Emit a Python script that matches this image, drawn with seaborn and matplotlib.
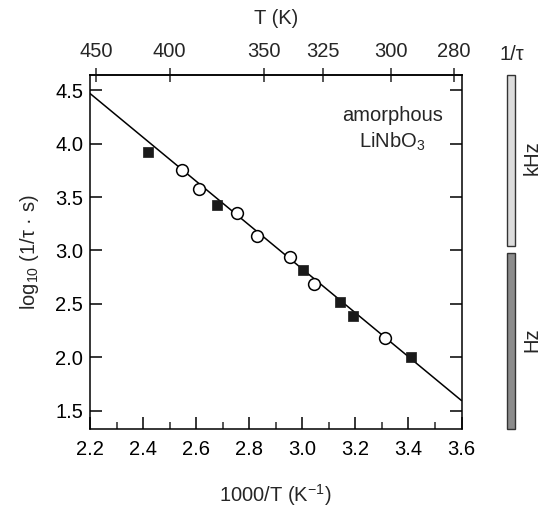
import numpy as np
import pandas as pd
import matplotlib
matplotlib.use("Agg")
import matplotlib.pyplot as plt
from matplotlib.patches import Rectangle
import seaborn as sns

# ---- data ----
sq_x = [2.419, 2.679, 3.002, 3.142, 3.190, 3.409]
sq_y = [3.92, 3.43, 2.82, 2.52, 2.385, 2.00]
ci_x = [2.545, 2.610, 2.754, 2.830, 2.954, 3.046, 3.312]
ci_y = [3.75, 3.58, 3.352, 3.136, 2.938, 2.69, 2.185]
fit_x = [2.2, 3.6]
fit_y = [4.47, 1.595]
bottom_ticks = [2.2, 2.4, 2.6, 2.8, 3.0, 3.2, 3.4, 3.6]
left_ticks = [1.5, 2.0, 2.5, 3.0, 3.5, 4.0, 4.5]
top_T = [450, 400, 350, 325, 300, 280]

FS = 14.5

sns.set_theme(style="ticks")
plt.rcParams["font.family"] = ["Liberation Sans", "DejaVu Sans"]
plt.rcParams["mathtext.fontset"] = "custom"
plt.rcParams["mathtext.rm"] = "Liberation Sans"
plt.rcParams["mathtext.it"] = "Liberation Sans"
plt.rcParams["mathtext.default"] = "regular"

fig = plt.figure(figsize=(5.41, 5.08), dpi=100)
ax = fig.add_axes([90/541, 1-429.3/508, (461.5-90)/541, (429.3-75)/508])

df_fit = pd.DataFrame({"x": fit_x, "y": fit_y})
sns.lineplot(data=df_fit, x="x", y="y", ax=ax, color="black", lw=1.1)
df_sq = pd.DataFrame({"x": sq_x, "y": sq_y})
sns.scatterplot(data=df_sq, x="x", y="y", ax=ax, marker="s", s=62,
                color="#1a1a1a", edgecolor="#1a1a1a", linewidth=0.5, zorder=3)
df_ci = pd.DataFrame({"x": ci_x, "y": ci_y})
sns.scatterplot(data=df_ci, x="x", y="y", ax=ax, marker="o", s=72,
                facecolor="white", edgecolor="black", linewidth=1.1, zorder=3)

ax.set_xlim(2.2, 3.6)
ax.set_ylim(1.326, 4.643)
ax.set_xticks(bottom_ticks)
ax.set_xticklabels([f"{t:.1f}" for t in bottom_ticks])
ax.set_xticks(np.arange(2.3, 3.6, 0.2), minor=True)
ax.set_yticks(left_ticks)
ax.set_yticklabels([f"{t:.1f}" for t in left_ticks])
ax.tick_params(axis="both", which="major", direction="in", length=8.8, width=1.1,
               labelsize=FS, colors="black")
ax.tick_params(axis="x", which="major", pad=8)
ax.tick_params(axis="y", which="major", pad=5, right=True, left=True)
ax.tick_params(axis="x", which="minor", direction="in", length=4.8, width=1.1)
ax.tick_params(axis="x", top=False)
for s in ax.spines.values():
    s.set_linewidth(1.1)
    s.set_color("black")
    s.set_visible(True)

ax.set_xlabel("1000/T (K$^{-1}$)", fontsize=FS, labelpad=16)
ax.set_ylabel("log$_{10}$ (1/τ · s)", fontsize=FS, labelpad=10)

inv = lambda x: 1000.0 / np.asarray(x, dtype=float)
sec = ax.secondary_xaxis("top", functions=(inv, inv))
sec.set_xticks(top_T)
sec.set_xticklabels([str(t) for t in top_T])
sec.tick_params(direction="inout", length=9.6, width=1.1, labelsize=FS, pad=5)

ax.text(3.34, 4.26, "amorphous", ha="center", va="center", fontsize=FS)
ax.text(3.34, 4.02, "LiNbO$_3$", ha="center", va="center", fontsize=FS)

# frequency range bars
def px(x, y):
    return x/541, 1-y/508
fig.text(*px(276, 19), "T (K)", ha="center", va="center", fontsize=FS)
x0, y0 = px(506.5, 246)
fig.patches.append(Rectangle((x0, y0), 8.5/541, (246-75)/508, transform=fig.transFigure,
                             facecolor="#dcdcdc", edgecolor="#333333", lw=1.0))
x1, y1 = px(506.5, 429.3)
fig.patches.append(Rectangle((x1, y1), 8.5/541, (429.3-253)/508, transform=fig.transFigure,
                             facecolor="#8c8c8c", edgecolor="#333333", lw=1.0))
fig.text(*px(511.5, 54), "1/τ", ha="center", va="center", fontsize=FS)
fig.text(*px(532, 158), "kHz", ha="center", va="center", rotation=90, fontsize=FS)
fig.text(*px(532, 340), "Hz", ha="center", va="center", rotation=90, fontsize=FS)

fig.savefig("out.png", dpi=100)
